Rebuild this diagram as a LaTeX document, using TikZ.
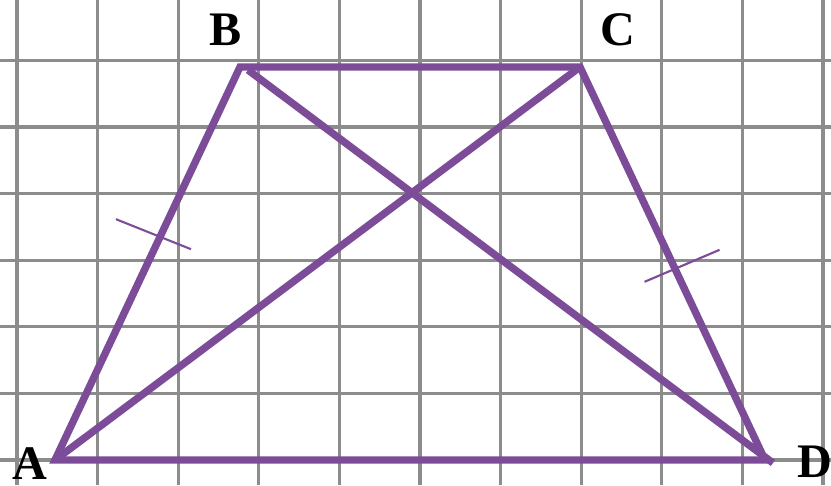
\documentclass[tikz,border=0pt]{standalone}
\usepackage{fontspec}
\setmainfont{Liberation Serif}
\usetikzlibrary{calc}
\definecolor{trapez}{RGB}{124,76,153}
\begin{document}
\begin{tikzpicture}[x={(0.01cm,0)}, y={(0,-0.01cm)},
  gridline/.style={draw=black!45, line width=0.9pt},
  side/.style={draw=trapez, line width=2.1pt, line join=miter},
  tick/.style={draw=trapez, line width=0.6pt},
  vertex/.style={font=\fontsize{13.7}{16}\selectfont\bfseries, inner sep=0pt}]
\useasboundingbox (0,0) rectangle (831,485);
\fill[white] (0,0) rectangle (831,485);
% squared paper
\foreach \gx in {0,...,10} \draw[gridline] (17+80.6*\gx,0) -- (17+80.6*\gx,485);
\foreach \gy in {0,...,6} \draw[gridline] (0,460-66.6*\gy) -- (831,460-66.6*\gy);
% corners of the trapezoid
\coordinate (A) at (55,460);
\coordinate (B) at (240,67);
\coordinate (C) at (580,67);
\coordinate (D) at (765,460);
\coordinate (Bd) at (248,70);
\coordinate (Dd) at (773,463);
\draw[side] (A) -- (B) -- (C) -- (D) -- cycle;
\draw[side] (A) -- (C);
\draw[side] (Bd) -- (Dd);
% equal sides
\draw[tick] ($(A)!0.567!(B)$) +(-44,-18) -- +(31,12);
\draw[tick] ($(C)!0.511!(D)$) +(-30,14) -- +(45,-18);
\node[vertex] (lA) at (30,464) {A};
\node[vertex] (lB) at (226,30) {B};
\node[vertex] (lC) at (618,30) {C};
\node[vertex] (lD) at (815,462) {D};
\end{tikzpicture}
\end{document}
